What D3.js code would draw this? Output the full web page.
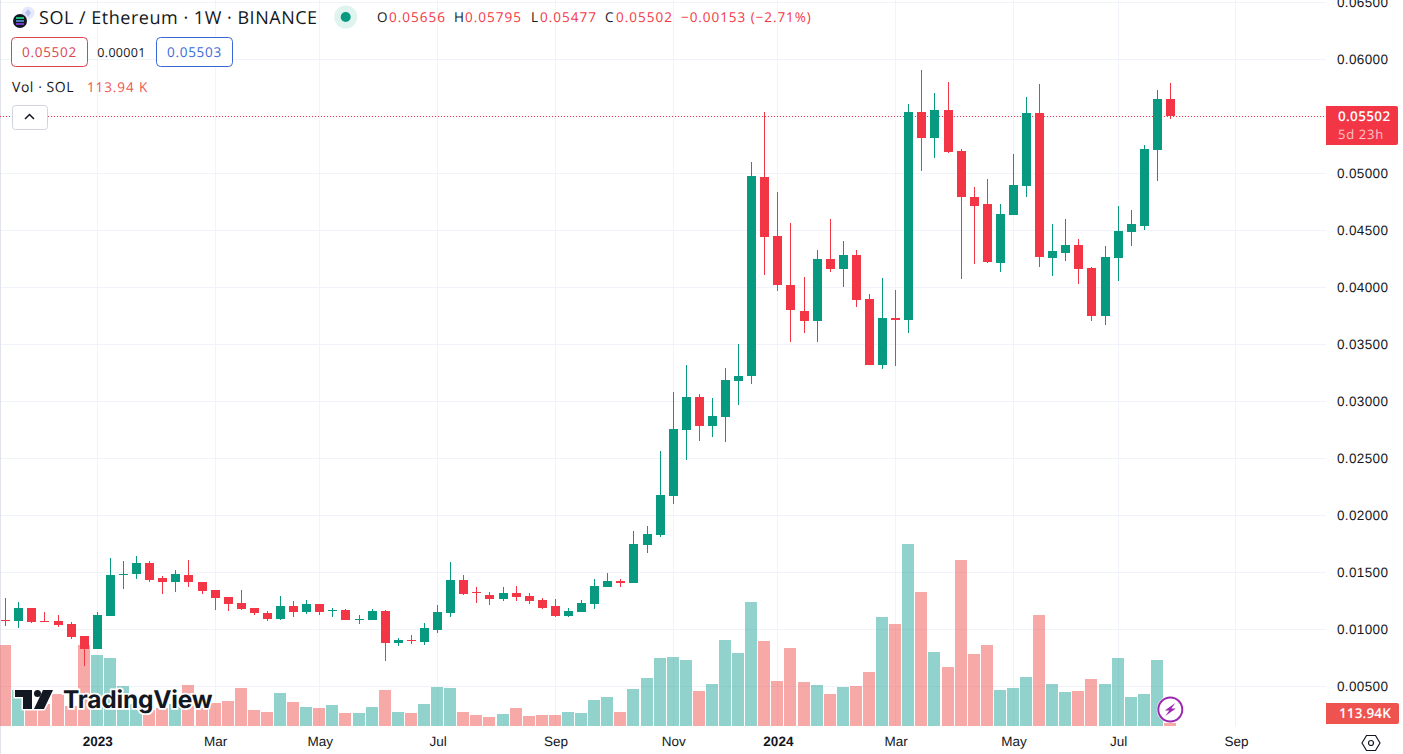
<!DOCTYPE html>
<html>
<head>
<meta charset="utf-8">
<title>SOL / Ethereum</title>
<script src="https://cdn.jsdelivr.net/npm/d3@7"></script>
<style>
  html, body { margin: 0; padding: 0; background: #fff; overflow: hidden; }
  svg { display: block; font-family: "Open Sans", "Noto Sans", sans-serif; }
  text { text-rendering: geometricPrecision; }
</style>
</head>
<body>
<svg id="chart" width="1403" height="754"></svg>
<script>
// Weekly SOL/ETH candles, Binance
const opens = [
  .01082,.01073,.01187,.01073,.01073,.01046,.00941,.00827,.01117,.01472,
  .01485,.01582,.0145,.01415,.01476,.01415,.01345,.01283,.01231,.01187,
  .01143,.0109,.01204,.01152,.01222,.01161,.01169,.01082,.01082,.01161,
  .0088,.00906,.00889,.00994,.01143,.01432,.01327,.01301,.01266,.01318,
  .01292,.01257,.01204,.01117,.01152,.01222,.01371,.01424,.01406,.0174,
  .01827,.02169,.02748,.03038,.02783,.02862,.03178,.03222,.04968,.0445,
  .0402,.03792,.03704,.04248,.0416,.04283,.03897,.03318,.03731,.03713,
  .05538,.0531,.05555,.05196,.04792,.04731,.04213,.04634,.04889,.05529,
  .04257,.04301,.04371,.04169,.03748,.04257,.04485,.04538,.05204,.05656
];
const highs = [
  .01275,.01239,.01187,.01152,.01125,.01064,.00941,.01152,.01625,.01599,
  .01643,.01599,.01468,.0152,.01608,.01415,.01345,.01283,.01345,.01187,
  .01161,.01292,.01248,.01257,.01222,.01187,.01178,.01125,.01178,.01169,
  .00924,.0095,.01055,.01213,.0159,.01476,.01371,.01327,.01371,.0138,
  .01318,.01275,.01266,.01187,.01257,.01441,.01494,.01441,.01862,.01906,
  .02564,.03082,.03318,.03064,.03029,.03292,.03503,.05099,.05538,.04836,
  .04564,.0409,.04327,.04599,.04406,.04327,.03941,.04082,.03976,.05608,
  .05906,.05704,.05801,.05213,.0488,.0495,.04731,.05169,.05669,.05783,
  .04555,.04599,.04424,.04178,.04362,.04713,.04678,.05248,.05731,.05795
];
const lows = [
  .01029,.01011,.01055,.01064,.0102,.00915,.00678,.00827,.01117,.01354,
  .01441,.01415,.0131,.01327,.01371,.0131,.01169,.01161,.01169,.01125,
  .01073,.01082,.01108,.01134,.01125,.01108,.01082,.01046,.01082,.00722,
  .00854,.00871,.00862,.00968,.01108,.01301,.01231,.01213,.01248,.01248,
  .01222,.01178,.01108,.01108,.01152,.01178,.01371,.01371,.01406,.01669,
  .0181,.02099,.02485,.02652,.02687,.02643,.02968,.03152,.04108,.03968,
  .0352,.03599,.0352,.04134,.04003,.03827,.03318,.03283,.0331,.03599,
  .0502,.05134,.05178,.04073,.04204,.04213,.04134,.04634,.04792,.04178,
  .04099,.04231,.04029,.03704,.03669,.04055,.04362,.04503,.04932,.05477
];
const closes = [
  .01073,.01187,.01064,.01064,.01038,.00932,.00827,.01125,.01476,.01485,
  .01582,.01432,.01415,.01485,.01415,.01336,.01275,.01222,.01178,.01143,
  .0109,.01204,.01152,.01222,.01152,.01169,.01082,.0109,.01161,.0088,
  .00906,.00897,.01011,.01152,.01432,.0131,.01318,.01266,.01318,.01283,
  .01248,.01187,.01117,.01161,.01231,.0138,.01424,.01406,.01748,.01836,
  .02178,.02757,.03038,.02783,.02871,.03187,.03222,.04976,.04441,.0402,
  .03801,.03704,.04248,.0416,.04283,.03889,.03318,.03731,.03713,.05538,
  .0531,.05555,.05187,.04792,.04713,.04222,.04643,.04897,.05529,.04266,
  .04318,.04371,.0416,.03748,.04266,.04494,.04555,.05213,.05656,.05502
];
// Volume in thousands of SOL
const volumes = [
  3418,1519,717,928,1350,844,3418,2996,2870,1688,
  928,675,760,928,1730,760,971,1055,1604,675,
  591,1393,1013,802,760,886,549,549,802,1519,
  591,549,928,1646,1604,591,464,380,506,760,
  422,464,464,591,549,1097,1224,591,1561,2026,
  2870,2912,2785,1477,1772,3629,3081,5233,3587,1899,
  3292,1857,1730,1350,1646,1688,2279,4600,4304,7680,
  5655,3123,2490,7005,3038,3418,1519,1604,2068,4684,
  1772,1435,1477,1983,1772,2870,1224,1350,2785,113.94
];
const priceTicks = [.005,.01,.015,.02,.025,.03,.035,.04,.045,.05,.055,.06,.065];
const timeTicks = ["2023-01-02","2023-03-06","2023-05-01","2023-07-03","2023-09-04","2023-11-06","2024-01-01","2024-03-04","2024-05-06","2024-07-01","2024-09-02"];
const timeLabels = ["2023","Mar","May","Jul","Sep","Nov","2024","Mar","May","Jul","Sep"];
const lastClose = 0.05502;

const UP = "#089981", DOWN = "#f23645";
const UP_VOL = "rgba(38,166,154,.5)", DOWN_VOL = "rgba(239,83,80,.5)";
const GRID = "#f0f3fa", INK = "#131722";
const PANE_RIGHT = 1326, PANE_BOTTOM = 726;

const weeks = d3.utcMonday.range(new Date(Date.UTC(2022,10,14)), new Date(Date.UTC(2024,6,30)));
const x = d3.scaleUtc()
  .domain([weeks[0], weeks[weeks.length - 1]])
  .range([5.72, 1170.5]);
const y = d3.scaleLinear().domain([0, 0.065]).range([743.3, 2.3]);
const yVol = d3.scaleLinear().domain([0, 7680]).range([726, 544]);

const px = d => Math.floor(x(d));
const svg = d3.select("#chart");
svg.append("rect").attr("width", 1403).attr("height", 754).attr("fill", "#fff");
svg.append("rect").attr("width", 1).attr("height", 754).attr("fill", "#e0e3eb");

// Grid
const grid = svg.append("g").attr("shape-rendering", "crispEdges").attr("stroke", GRID);
grid.selectAll("line.h").data(priceTicks).join("line").attr("class", "h")
  .attr("x1", 1).attr("x2", PANE_RIGHT)
  .attr("y1", d => Math.floor(y(d)) + .5).attr("y2", d => Math.floor(y(d)) + .5);
grid.selectAll("line.v").data(timeTicks).join("line").attr("class", "v")
  .attr("y1", 0).attr("y2", PANE_BOTTOM)
  .attr("x1", d => Math.floor(x(new Date(d))) + .5)
  .attr("x2", d => Math.floor(x(new Date(d))) + .5);

// Volume histogram, drawn translucent so the grid shows through
const rows = weeks.map((week, i) => ({ week, o: opens[i], h: highs[i], l: lows[i], c: closes[i], v: volumes[i] }));
svg.append("g").attr("shape-rendering", "crispEdges")
  .selectAll("rect").data(rows).join("rect")
  .attr("x", d => px(d.week) - 6)
  .attr("width", 12)
  .attr("y", d => yVol(d.v))
  .attr("height", d => yVol(0) - yVol(d.v))
  .attr("fill", d => d.c >= d.o ? UP_VOL : DOWN_VOL);

// Last price marker
svg.append("line")
  .attr("x1", 0).attr("x2", PANE_RIGHT)
  .attr("y1", Math.floor(y(lastClose)) + .5).attr("y2", Math.floor(y(lastClose)) + .5)
  .attr("stroke", DOWN).attr("stroke-dasharray", "1 2");

// Candles
const candles = svg.append("g").attr("shape-rendering", "crispEdges")
  .selectAll("g").data(rows).join("g");
candles.append("line")
  .attr("x1", d => px(d.week) + .5).attr("x2", d => px(d.week) + .5)
  .attr("y1", d => y(d.h)).attr("y2", d => y(d.l))
  .attr("stroke", d => d.c >= d.o ? UP : DOWN);
candles.append("rect")
  .attr("x", d => px(d.week) - 4)
  .attr("width", 9)
  .attr("y", d => y(Math.max(d.o, d.c)))
  .attr("height", d => Math.max(1, Math.abs(y(d.o) - y(d.c))))
  .attr("fill", d => d.c >= d.o ? UP : DOWN);

// Axes
const priceAxis = d3.axisRight(y).tickValues(priceTicks).tickSize(0).tickPadding(0)
  .tickFormat(d3.format(".5f"));
svg.append("g").attr("transform", "translate(1337,0)").call(priceAxis)
  .call(g => g.select(".domain").remove())
  .selectAll("text").attr("font-size", 13.5).attr("fill", INK).attr("font-family", "inherit").attr("letter-spacing", ".35");

const timeAxis = d3.axisBottom(x).tickValues(timeTicks.map(d => new Date(d))).tickSize(0).tickPadding(0)
  .tickFormat((d, i) => timeLabels[i]);
svg.append("g").attr("transform", "translate(0,736)").call(timeAxis)
  .call(g => g.select(".domain").remove())
  .selectAll("text")
  .attr("font-size", 13.5).attr("fill", INK).attr("font-family", "inherit")
  .attr("font-weight", (d, i) => /^\d/.test(timeLabels[i]) ? 700 : 400);

// Price and volume tags on the right scale
const tag = svg.append("g");
tag.append("path").attr("d", "M1326 106H1396a2 2 0 0 1 2 2V143a2 2 0 0 1-2 2H1326Z").attr("fill", DOWN);
tag.append("text").attr("x", 1338).attr("y", 121).attr("fill", "#fff").attr("font-size", 13.5).attr("font-weight", 600).attr("letter-spacing", ".35").text("0.05502");
tag.append("text").attr("x", 1338).attr("y", 139).attr("fill", "#fff").attr("fill-opacity", .72).attr("font-size", 13).attr("letter-spacing", ".7").text("5d 23h");
tag.append("path").attr("d", "M1326 703H1397a2 2 0 0 1 2 2V722a2 2 0 0 1-2 2H1326Z").attr("fill", "#ef5350");
tag.append("text").attr("x", 1339).attr("y", 718).attr("fill", "#fff").attr("font-size", 13.5).attr("font-weight", 600).attr("letter-spacing", ".15").text("113.94K");

// Settings glyph beside the time scale
svg.append("g").attr("transform", "translate(1371,743)").attr("fill", "none").attr("stroke", INK).attr("stroke-width", 1.2)
  .call(g => g.append("path").attr("d", "M-9 0L-4.5 -7.5H4.5L9 0L4.5 7.5H-4.5Z"))
  .call(g => g.append("circle").attr("r", 2.5));

// Legend row
const legend = svg.append("g");
legend.append("circle").attr("cx", 28).attr("cy", 13).attr("r", 6.5).attr("fill", "#e6e9fb");
legend.append("path").attr("d", "M28 9L31 13L28 17L25 13Z").attr("fill", "#b9c3f2");
legend.append("circle").attr("cx", 20).attr("cy", 21).attr("r", 7).attr("fill", "#131722");
legend.append("g").attr("stroke-width", 1.5)
  .selectAll("line").data([["#19fb9b", 18], ["#5aa6e8", 21], ["#9945ff", 24]]).join("line")
  .attr("x1", 16).attr("x2", 24)
  .attr("y1", d => d[1]).attr("y2", d => d[1]).attr("stroke", d => d[0]);
legend.append("text").attr("x", 39).attr("y", 24).attr("font-size", 18).attr("letter-spacing", ".52").attr("fill", INK).text("SOL / Ethereum · 1W · BINANCE");
legend.append("circle").attr("cx", 345.7).attr("cy", 17).attr("r", 11.5).attr("fill", "#dff3ef");
legend.append("circle").attr("cx", 345.7).attr("cy", 17).attr("r", 5).attr("fill", UP);

const ohlcItems = [["O", 377, 389, "0.05656"], ["H", 454, 465, "0.05795"], ["L", 531, 540, "0.05477"], ["C", 605, 616, "0.05502"]];
ohlcItems.forEach(([k, kx, vx, val]) => {
  legend.append("text").attr("x", kx).attr("y", 22).attr("font-size", 13.5).attr("fill", INK).text(k);
  legend.append("text").attr("x", vx).attr("y", 22).attr("font-size", 13.5).attr("letter-spacing", "1").attr("fill", DOWN).text(val);
});
legend.append("text").attr("x", 681).attr("y", 22).attr("font-size", 13.5).attr("letter-spacing", ".95").attr("fill", DOWN).text("−0.00153 (−2.71%)");

const quote = (bx, color, label) => {
  legend.append("rect").attr("x", bx + .5).attr("y", 37.5).attr("width", 76).attr("height", 29).attr("rx", 4)
    .attr("fill", "#fff").attr("stroke", color);
  legend.append("text").attr("x", bx + 38.5).attr("y", 57).attr("text-anchor", "middle").attr("font-size", 13.5).attr("letter-spacing", ".7").attr("fill", color).text(label);
};
quote(11, "#d9444f", "0.05502");
quote(156, "#3868d8", "0.05503");
legend.append("text").attr("x", 121.5).attr("y", 57).attr("text-anchor", "middle").attr("font-size", 12.5).attr("letter-spacing", ".3").attr("fill", INK).text("0.00001");

legend.append("text").attr("x", 12).attr("y", 92).attr("font-size", 14).attr("letter-spacing", ".55").attr("fill", INK).text("Vol · SOL");
legend.append("text").attr("x", 87).attr("y", 92).attr("font-size", 13.5).attr("letter-spacing", ".9").attr("fill", "#ef5350").text("113.94 K");

legend.append("rect").attr("x", 12.5).attr("y", 105.5).attr("width", 35).attr("height", 24).attr("rx", 3)
  .attr("fill", "#fff").attr("stroke", "#d1d4dc");
legend.append("path").attr("d", "M25 119L29.5 114.5L34 119").attr("fill", "none").attr("stroke", INK).attr("stroke-width", 1.5);

// Brand mark, lower left
const brand = svg.append("g");
brand.append("path")
  .attr("d", "M15 690H32V709H23V697H15ZM43 690H53L44 709H34Z")
  .attr("fill", INK).attr("stroke", "#fff").attr("stroke-width", 3).attr("paint-order", "stroke");
brand.append("circle").attr("cx", 37.5).attr("cy", 693.5).attr("r", 3.5).attr("fill", INK);
brand.append("text").attr("x", 63).attr("y", 708).attr("font-size", 24.5).attr("font-weight", 700).attr("letter-spacing", "-.2")
  .attr("font-family", "Inter, Roboto, sans-serif")
  .attr("fill", INK).attr("stroke", "#fff").attr("stroke-width", 3.5).attr("paint-order", "stroke").text("TradingView");

// Alert badge on the last week
const badge = svg.append("g").attr("transform", "translate(1170.3,709.5)");
badge.append("circle").attr("r", 13.5).attr("fill", "#fff");
badge.append("circle").attr("r", 12).attr("fill", "#fff").attr("stroke", "#9c27b0").attr("stroke-width", 2);
badge.append("path").attr("d", "M5 -6.5L-5.5 1H-1L-5 6.5L5.5 -1H1Z").attr("fill", "#9c27b0");
</script>
</body>
</html>
